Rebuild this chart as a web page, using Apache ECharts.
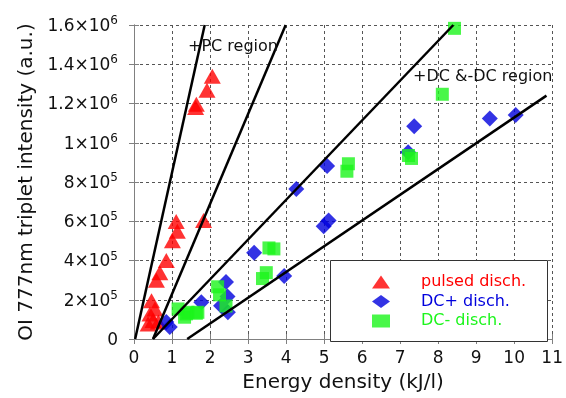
<!DOCTYPE html>
<html>
<head>
<meta charset="utf-8">
<script src="https://cdn.jsdelivr.net/npm/echarts@6/dist/echarts.min.js"></script>
<style>
  html, body { margin: 0; padding: 0; background: #fff; overflow: hidden; }
  #chart { width: 566px; height: 398px; }
</style>
</head>
<body>
<div id="chart"></div>
<script>
// Energy density (kJ/l) vs. OI 777 nm triplet intensity (a.u.)
const pulsedX = [2.06, 1.92, 1.64, 1.62, 1.11, 1.83, 1.14, 1.01, 0.85, 0.68, 0.59, 0.46, 0.55, 0.42, 0.50, 0.37, 0.64];
const pulsedY = [1339000, 1268000, 1196000, 1180000, 599000, 604000, 549000, 501000, 400000, 338000, 300000, 195000, 153000, 128000, 94000, 77000, 86000];

const dcPlusX = [5.08, 4.27, 5.12, 4.99, 3.16, 3.95, 2.42, 2.46, 2.29, 2.47, 1.77, 0.85, 0.94, 7.37, 7.21, 9.36, 10.04];
const dcPlusY = [882000, 764000, 604000, 574000, 439000, 321000, 291000, 216000, 170000, 136000, 187000, 86000, 61000, 1084000, 952000, 1124000, 1141000];

const dcMinusX = [8.43, 8.11, 7.22, 7.30, 5.64, 5.60, 3.68, 3.55, 3.48, 3.38, 2.20, 2.25, 2.42, 1.16, 1.42, 1.68, 1.33, 1.64, 1.38];
const dcMinusY = [1583000, 1247000, 935000, 920000, 893000, 855000, 459000, 464000, 338000, 308000, 266000, 225000, 168000, 153000, 136000, 136000, 111000, 131000, 128000];

// Region boundary lines: [x, y] end points
const boundaryLines = [
  [[0.03, 0], [1.86, 1600000]],
  [[0.50, 0], [3.99, 1600000]],
  [[0.50, 0], [8.40, 1600000]],
  [[1.40, 0], [10.85, 1240000]]
];

const xTicks = { min: 0, max: 11, interval: 1 };
const yTicks = { min: 0, max: 1600000, interval: 200000 };

const seriesNames = ['pulsed disch.', 'DC+ disch.', 'DC- disch.'];
const seriesColors = ['#ff0000', '#0000dd', '#1cf51c'];

const regionLabels = ['+PC region', '+DC &-DC region'];

const zip = (xs, ys) => xs.map((x, i) => [x, ys[i]]);

// Tick text in the form "m×10^e" with a raised exponent
function yLabel(v) {
  if (v === 0) return '{b|0}';
  if (v >= 1000000) {
    const m = v / 1000000;
    const s = Number.isInteger(m) ? String(m) : m.toFixed(1);
    return '{b|' + s + '×10}{s|6}';
  }
  return '{b|' + (v / 100000) + '×10}{s|5}';
}

const FONT = 'DejaVu Sans';
const gridColor = '#555';
const frameColor = '#808080';

const chart = echarts.init(document.getElementById('chart'), null, { renderer: 'canvas' });

const scatterBase = { type: 'scatter', xAxisIndex: 0, yAxisIndex: 0, z: 2 };

chart.setOption({
  animation: false,
  backgroundColor: '#ffffff',
  textStyle: { fontFamily: FONT },
  grid: { left: 134, right: 12, top: 25, bottom: 56, containLabel: false },
  xAxis: [
    {
      type: 'value', ...xTicks, position: 'bottom',
      name: 'Energy density (kJ/l)', nameLocation: 'middle', nameGap: 34,
      nameTextStyle: { fontSize: 20, color: '#111', fontFamily: FONT },
      axisLine: { lineStyle: { color: frameColor, width: 1 } },
      axisTick: { inside: true, length: 5, lineStyle: { color: frameColor } },
      axisLabel: { fontSize: 17, color: '#111', margin: 11, fontFamily: FONT },
      splitLine: { show: true, lineStyle: { color: gridColor, type: [3, 3], width: 1 } }
    },
    {
      type: 'value', ...xTicks, position: 'top',
      axisLine: { lineStyle: { color: frameColor, width: 1 } },
      axisTick: { inside: true, length: 5, lineStyle: { color: frameColor } },
      axisLabel: { show: false }, splitLine: { show: false }
    }
  ],
  yAxis: [
    {
      type: 'value', ...yTicks, position: 'left',
      name: 'OI 777nm triplet intensity (a.u.)', nameLocation: 'middle', nameGap: 89,
      nameRotate: 90,
      nameTextStyle: { fontSize: 20, color: '#111', fontFamily: FONT },
      axisLine: { show: true, lineStyle: { color: frameColor, width: 1 } },
      axisTick: { show: true, inside: true, length: 5, lineStyle: { color: frameColor } },
      axisLabel: {
        margin: 16, color: '#111', formatter: yLabel,
        rich: {
          b: { fontSize: 17, lineHeight: 20, fontFamily: FONT, color: '#111', verticalAlign: 'bottom' },
          s: { fontSize: 12, lineHeight: 12, fontFamily: FONT, color: '#111', verticalAlign: 'top', padding: [0, 0, 10, 0] }
        },
        fontSize: 17
      },
      splitLine: { show: true, lineStyle: { color: gridColor, type: [3, 3], width: 1 } }
    },
    {
      type: 'value', ...yTicks, position: 'right',
      axisLine: { show: true, lineStyle: { color: frameColor, width: 1 } },
      axisTick: { show: true, inside: true, length: 5, lineStyle: { color: frameColor } },
      axisLabel: { show: false }, splitLine: { show: false }
    }
  ],
  legend: {
    orient: 'vertical', left: 372, top: 274, z: 10,
    itemWidth: 18, itemHeight: 13, itemGap: 3.5,
    padding: 0,
    data: seriesNames.map((n, i) => ({
      name: n,
      textStyle: { color: seriesColors[i], fontSize: 16, fontFamily: FONT, padding: [0, 0, 0, 26] }
    }))
  },
  graphic: [
    {
      type: 'rect', left: 330, top: 260, z: 4,
      shape: { width: 217, height: 81 },
      style: { fill: '#fff', stroke: '#333', lineWidth: 1 }
    },
    {
      type: 'text', left: 188, top: 39, z: 6,
      style: { text: regionLabels[0], fontSize: 16, fontFamily: FONT, fill: '#111' }
    },
    {
      type: 'text', left: 413, top: 69, z: 6,
      style: { text: regionLabels[1], fontSize: 16, fontFamily: FONT, fill: '#111' }
    }
  ],
  series: [
    { ...scatterBase, name: seriesNames[0], symbol: 'triangle', symbolSize: [17, 15],
      itemStyle: { color: seriesColors[0] }, data: zip(pulsedX, pulsedY) },
    { ...scatterBase, name: seriesNames[1], symbol: 'diamond', symbolSize: [16, 16],
      itemStyle: { color: seriesColors[1] }, data: zip(dcPlusX, dcPlusY) },
    { ...scatterBase, name: seriesNames[2], symbol: 'rect', symbolSize: 13,
      itemStyle: { color: seriesColors[2] }, data: zip(dcMinusX, dcMinusY) },
    ...boundaryLines.map(seg => ({
      type: 'line', data: seg, symbol: 'none', z: 3, silent: true,
      lineStyle: { color: '#000', width: 2.5 }, clip: true
    }))
  ]
});
</script>
</body>
</html>
